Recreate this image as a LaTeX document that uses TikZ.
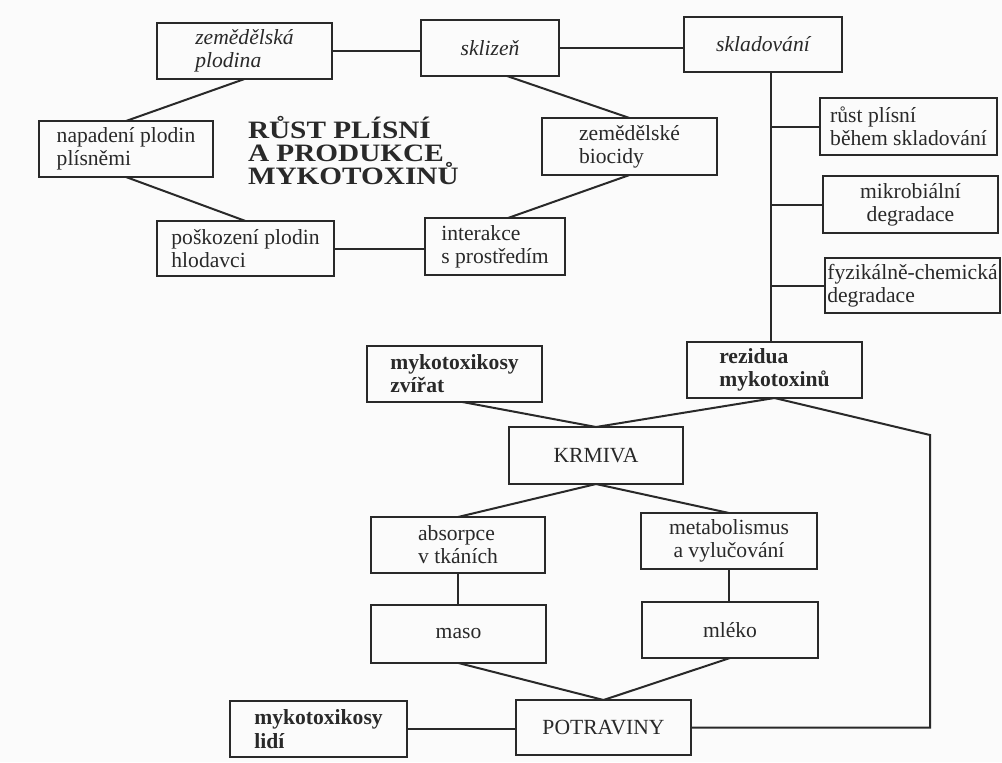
\documentclass[tikz,border=0pt]{standalone}
\usepackage{fontspec}
\setmainfont{Liberation Serif}
\usepackage{tikz}
\usetikzlibrary{calc,positioning}
\definecolor{paper}{gray}{0.985}
\definecolor{ink}{gray}{0.16}
\newcommand{\boxfont}{\fontsize{10.8}{11.6}\selectfont}
\tikzset{
	myko diagram/.style={
		x=.5pt, y=-.5pt,
		line width=1pt, draw=ink, color=ink,
		box/.style={draw, inner sep=2pt, outer sep=0pt, align=left, font=\boxfont},
		it/.style={font=\boxfont\itshape},
		bf/.style={font=\boxfont\bfseries},
		nadpis/.style={inner sep=0pt, anchor=base west,
			font=\fontsize{12.5}{11.5}\selectfont\bfseries}
		},
	bw/.style 2 args={minimum width={#1*.5pt}, minimum height={#2*.5pt}}
}

\begin{document}
\begin{tikzpicture}[myko diagram]
	\useasboundingbox[fill=paper] (0,0) rectangle (1002,762);
	\node[box,it,bw={175}{56}] (plodina) at (244.5,51) {zemědělská\\plodina};
	\node[box,it,bw={138}{56}] (sklizen) at (490,48) {sklizeň};
	\node[box,it,bw={158}{55}] (sklad) at (763,44.5) {skladování};
	\node[box,bw={174}{56}] (napad) at (126,149) {napadení plodin\\plísněmi};
	\node[box,bw={175}{57}] (biocidy) at (629.5,146.5) {zemědělské\\biocidy};
	\node[box,bw={177}{55}] (poskoz) at (245.5,248.5) {poškození plodin\\hlodavci};
	\node[box,bw={140}{57}] (interakce) at (495,246.5) {interakce\\s prostředím};
	\node[nadpis] (titul) at (247,184) {\scalebox{1.17}[1]{\vbox{\lineskiplimit=-100pt
		\hbox{RŮST PLÍSNÍ}\hbox{A PRODUKCE}\hbox{MYKOTOXINŮ}}}};
	\node[box,bw={177}{57}] (rust) at (908.5,126.5) {růst plísní\\během skladování};
	\node[box,align=center,bw={175}{57}] (mikro) at (910.5,204.5) {mikrobiální\\degradace};
	\node[box,inner xsep=.5pt,bw={175}{55}] (fyz) at (912.5,285.5) {fyzikálně-chemická\\degradace};
	\node[box,bf,bw={175}{56}] (rezidua) at (774.5,370) {rezidua\\mykotoxinů};
	\node[box,bf,bw={175}{56}] (zvirat) at (454.5,374) {mykotoxikosy\\zvířat};
	\node[box,bw={174}{57}] (krmiva) at (596,455.5) {KRMIVA};
	\node[box,bw={174}{56}] (absorpce) at (458,545) {absorpce\\v tkáních};
	\node[box,align=center,bw={176}{56}] (metab) at (729,541) {metabolismus\\a vylučování};
	\node[box,bw={175}{58}] (maso) at (458.5,634) {maso};
	\node[box,bw={176}{56}] (mleko) at (730,630) {mléko};
	\node[box,bw={175}{55}] (potraviny) at (603.5,727.5) {POTRAVINY};
	\node[box,bf,bw={177}{56}] (lidi) at (318.5,729) {mykotoxikosy\\lidí};

	\draw (plodina.east) -- (plodina.east -| sklizen.west);
	\draw (sklizen.east) -- (sklizen.east -| sklad.west);
	\draw (poskoz.east) -- (poskoz.east -| interakce.west);
	\draw (plodina.south) -- (napad.north);
	\draw (napad.south) -- (poskoz.north);
	\draw ($(sklizen.south)+(17,0)$) -- (biocidy.north);
	\draw (biocidy.south) -- ($(interakce.north)+(13,0)$);
	\coordinate (kmen) at ($(sklad.south)+(8,0)$);
	\draw (kmen) -- (kmen |- rezidua.north);
	\foreach \n in {rust,mikro,fyz}
		\draw (kmen |- \n.west) -- (\n.west);
	\draw ($(zvirat.south)+(8,0)$) -- (krmiva.north) -- (rezidua.south);
	\coordinate (ohyb) at (930,435);
	\draw (rezidua.south) -- (ohyb) -- (ohyb |- potraviny.east) -- (potraviny.east);
	\foreach \n in {absorpce,metab}
		\draw (krmiva.south) -- (\n.north);
	\draw (absorpce.south) -- (absorpce.south |- maso.north);
	\draw (metab.south) -- (metab.south |- mleko.north);
	\foreach \n in {maso,mleko}
		\draw (\n.south) -- (potraviny.north);
	\draw (lidi.east) -- (lidi.east -| potraviny.west);
\end{tikzpicture}
\end{document}
